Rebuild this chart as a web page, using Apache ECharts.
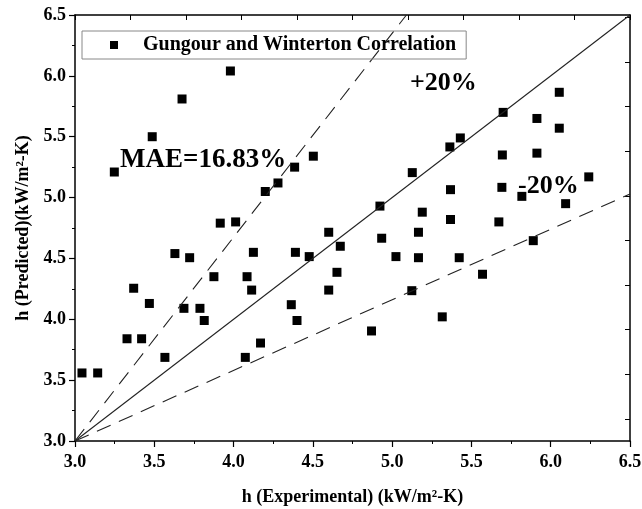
<!DOCTYPE html>
<html><head><meta charset="utf-8">
<script src="https://cdn.jsdelivr.net/npm/echarts@6/dist/echarts.min.js"></script>
<style>html,body{margin:0;padding:0;background:#fff}#c{width:642px;height:509px}</style>
</head><body><div id="c"></div>
<script>
// ---- data ----
const seriesName = 'Gungour and Winterton Correlation';
const expX = [3.98, 3.675, 3.487, 3.248, 4.503, 4.385, 4.28, 4.20, 3.916, 4.013,
  6.054, 5.70, 5.913, 6.054, 5.43, 5.364, 5.695, 5.913, 5.127, 6.24,
  4.923, 5.368, 5.692, 5.818, 6.094, 5.19, 5.368, 5.673, 3.044, 3.143,
  3.328, 3.42, 3.567, 3.37, 3.469, 3.63, 3.723, 3.687, 3.788, 3.815,
  3.876, 4.085, 4.125, 4.114, 4.074, 4.17, 4.39, 4.477, 4.60, 4.673,
  4.652, 4.60, 4.364, 4.40, 4.934, 5.166, 5.024, 5.166, 5.423, 5.89,
  5.57, 5.124, 5.316, 4.87, 2.985];
const predY = [6.04, 5.81, 5.50, 5.21, 5.34, 5.25, 5.12, 5.05, 4.79, 4.80,
  5.865, 5.70, 5.65, 5.57, 5.49, 5.416, 5.35, 5.365, 5.205, 5.17,
  4.93, 5.065, 5.084, 5.01, 4.95, 4.88, 4.82, 4.80, 3.559, 3.559,
  3.84, 3.84, 3.687, 4.255, 4.13, 4.54, 4.506, 4.09, 4.09, 3.99,
  4.35, 4.35, 4.55, 4.24, 3.687, 3.805, 4.55, 4.515, 4.715, 4.60,
  4.386, 4.24, 4.12, 3.99, 4.666, 4.715, 4.515, 4.506, 4.506, 4.646,
  4.37, 4.235, 4.02, 3.904, 4.83];
// reference lines (end points in data units)
const parityX = [3.0, 6.5], parityY = [3.0, 6.5];
const plusX = [3.0, 5.09], plusY = [3.0, 6.5];
const minusX = [3.0, 6.5], minusY = [3.0, 5.03];
// ticks
const axisMin = 3.0, axisMax = 6.5, axisStep = 0.5;
const topTicks = [3.0, 3.35, 3.7, 4.05, 4.4, 4.75, 5.1, 5.45, 5.8, 6.15, 6.5];
const rightTicks = [3.18, 3.55, 3.92, 4.28, 4.65, 5.01, 5.38, 5.75, 6.11, 6.48];
const xName = 'h (Experimental) (kW/m²-K)';
const yName = 'h (Predicted)(kW/m²-K)';
const notes = ['+20%', 'MAE=16.83%', '-20%'];

// ---- chart ----
const FF = "'Liberation Serif','Times New Roman',serif";
const zip = (a, b) => a.map((v, i) => [v, b[i]]);
const lab = {fontFamily: FF, fontWeight: 'bold', fontSize: 18, color: '#000'};
const axLine = {show: true, onZero: false, lineStyle: {color: '#000', width: 1.5}};
const chart = echarts.init(document.getElementById('c'), null, {renderer: 'canvas'});
chart.setOption({
  animation: false,
  backgroundColor: '#fff',
  grid: {left: 75, right: 12, top: 15, bottom: 68, containLabel: false, outerBoundsMode: 'none'},
  legend: {
    data: [seriesName], left: 82, top: 31, icon: 'rect', itemWidth: 8, itemHeight: 8,
    itemStyle: {color: '#000', opacity: 1},
    borderColor: '#888', borderWidth: 1, padding: [4, 10, 4, 28],
    textStyle: {fontFamily: FF, fontWeight: 'bold', fontSize: 20, color: '#000', padding: [0, 0, 0, 20]}
  },
  xAxis: [{
    type: 'value', min: axisMin, max: axisMax, interval: axisStep, position: 'bottom',
    axisLine: axLine,
    axisTick: {show: true, inside: false, length: 6, lineStyle: {color: '#000', width: 1.2}},
    minorTick: {show: true, splitNumber: 2, length: 3, lineStyle: {color: '#000', width: 1}},
    axisLabel: Object.assign({formatter: v => v.toFixed(1), margin: 12}, lab),
    splitLine: {show: false},
    name: xName, nameLocation: 'middle', nameGap: 47, nameTextStyle: lab
  }, {
    type: 'value', min: axisMin, max: axisMax, position: 'top',
    axisLine: axLine,
    axisTick: {show: true, inside: true, length: 5, customValues: topTicks, lineStyle: {color: '#000'}},
    axisLabel: {show: false}, splitLine: {show: false}
  }],
  yAxis: [{
    type: 'value', min: axisMin, max: axisMax, interval: axisStep, position: 'left',
    axisLine: axLine,
    axisTick: {show: true, inside: false, length: 6, lineStyle: {color: '#000', width: 1.2}},
    minorTick: {show: true, splitNumber: 2, length: 3, lineStyle: {color: '#000', width: 1}},
    axisLabel: Object.assign({formatter: v => v.toFixed(1), margin: 9}, lab),
    splitLine: {show: false},
    name: yName, nameLocation: 'middle', nameGap: 42, nameTextStyle: lab
  }, {
    type: 'value', min: axisMin, max: axisMax, position: 'right',
    axisLine: axLine,
    axisTick: {show: true, inside: true, length: 5, customValues: rightTicks, lineStyle: {color: '#000'}},
    axisLabel: {show: false}, splitLine: {show: false}
  }],
  series: [
    {name: 'parity', type: 'line', data: zip(parityX, parityY), symbol: 'none', silent: true,
     lineStyle: {color: '#222', width: 1.1, type: 'solid'}},
    {name: 'plus20', type: 'line', data: zip(plusX, plusY), symbol: 'none', silent: true,
     lineStyle: {color: '#222', width: 1.1, type: [15, 9]}},
    {name: 'minus20', type: 'line', data: zip(minusX, minusY), symbol: 'none', silent: true,
     lineStyle: {color: '#222', width: 1.1, type: [15, 9]}},
    {name: seriesName, type: 'scatter', data: zip(expX, predY), symbol: 'rect', symbolSize: 9,
     clip: true, itemStyle: {color: '#000', opacity: 1}}
  ],
  graphic: [
    {type: 'text', left: 410, top: 70, style: {text: notes[0], font: "bold 26px " + FF, fill: '#000'}},
    {type: 'text', left: 120, top: 147, style: {text: notes[1], font: "bold 27px " + FF, fill: '#000'}},
    {type: 'text', left: 518, top: 173, style: {text: notes[2], font: "bold 26px " + FF, fill: '#000'}}
  ]
});
</script></body></html>
